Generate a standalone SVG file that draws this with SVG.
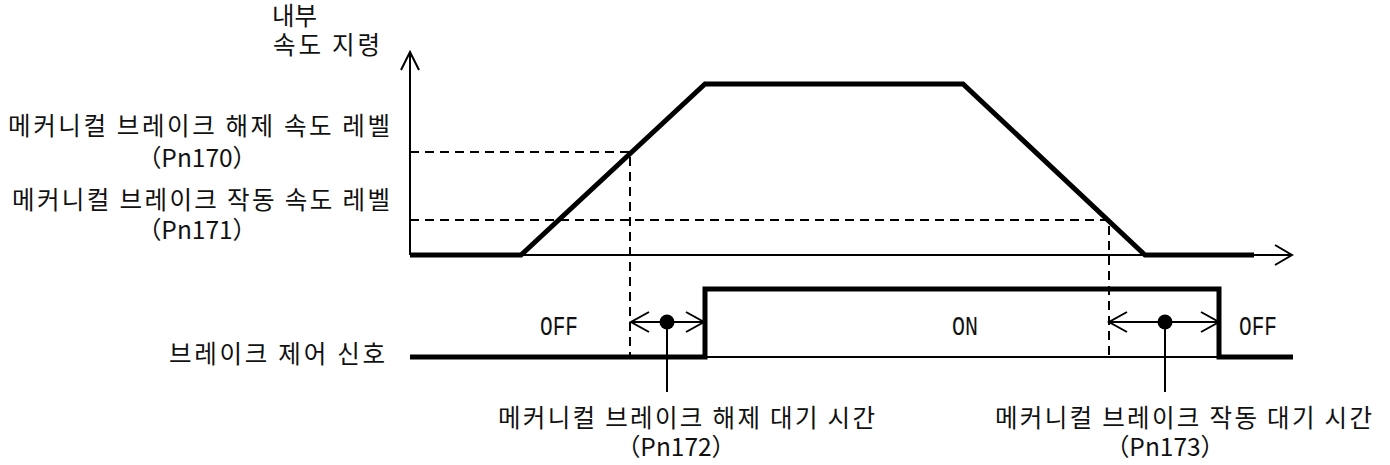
<svg xmlns="http://www.w3.org/2000/svg" width="1390" height="465" viewBox="0 0 1390 465">
<style>
.bg{fill:#fff}
.thick{fill:none;stroke:#000;stroke-width:5;stroke-linejoin:miter;stroke-linecap:butt}
.thin{fill:none;stroke:#000;stroke-width:2}
.dash{fill:none;stroke:#000;stroke-width:2;stroke-dasharray:9 6}
.kr{font-family:"Noto Sans CJK KR","Noto Sans",sans-serif;font-size:24.5px;fill:#111}
.lbl{font-family:"Liberation Mono","DejaVu Sans Mono",monospace;font-size:27px;fill:#111}
.dot{fill:#000}
</style>
<rect class="bg" x="0" y="0" width="1390" height="465"/>
<g id="axes">
  <path class="thin" d="M410,255 V52 M401,70 L410,52 L419,70"/>
  <path class="thin" d="M410,255 H1292 M1275,245 L1292,255 L1275,265"/>
</g>
<g id="speed-curve">
  <path class="thick" d="M410,255 H521 L705,84 H963 L1145,255 H1254"/>
</g>
<g id="connectors">
  <path class="dash" d="M410,152 H630 V357"/>
  <path class="dash" d="M410,220 H1109 V357"/>
  <path class="thin" d="M631,322 H704 M649,312 L631,322 L649,332 M686,312 L704,322 L686,332"/>
  <path class="thin" d="M1109,322 H1219 M1127,312 L1109,322 L1127,332 M1201,312 L1219,322 L1201,332"/>
  <path class="thin" d="M667,322 V392"/>
  <path class="thin" d="M1165,322 V392"/>
  <circle class="dot" cx="667" cy="322" r="7.5"/>
  <circle class="dot" cx="1165" cy="322" r="7.5"/>
</g>
<g id="brake-signal">
  <path class="thin" d="M705,357 H1219"/>
  <path class="thick" d="M410,357 H705 V289 H1219 V357 H1293"/>
</g>
<g id="label-speed-axis">
  <text class="kr" x="272" y="25" textLength="45">내부</text>
  <text class="kr" x="273" y="54" textLength="107">속도 지령</text>
</g>
<g id="label-release-level">
  <text class="kr" x="8" y="135" textLength="382">메커니컬 브레이크 해제 속도 레벨</text>
  <text class="kr" x="197" y="167" text-anchor="middle">（Pn170）</text>
</g>
<g id="label-engage-level">
  <text class="kr" x="12" y="209" textLength="378">메커니컬 브레이크 작동 속도 레벨</text>
  <text class="kr" x="197" y="239" text-anchor="middle">（Pn171）</text>
</g>
<g id="label-brake-signal">
  <text class="kr" x="169" y="363" textLength="216">브레이크 제어 신호</text>
</g>
<g id="label-states">
  <text class="lbl" x="540" y="335" textLength="38" lengthAdjust="spacingAndGlyphs">OFF</text>
  <text class="lbl" x="952" y="335" textLength="26" lengthAdjust="spacingAndGlyphs">ON</text>
  <text class="lbl" x="1239" y="335" textLength="38" lengthAdjust="spacingAndGlyphs">OFF</text>
</g>
<g id="label-release-wait">
  <text class="kr" x="498" y="427" textLength="377">메커니컬 브레이크 해제 대기 시간</text>
  <text class="kr" x="676" y="456" text-anchor="middle">（Pn172）</text>
</g>
<g id="label-engage-wait">
  <text class="kr" x="995" y="427" textLength="377">메커니컬 브레이크 작동 대기 시간</text>
  <text class="kr" x="1165" y="456" text-anchor="middle">（Pn173）</text>
</g>
</svg>
